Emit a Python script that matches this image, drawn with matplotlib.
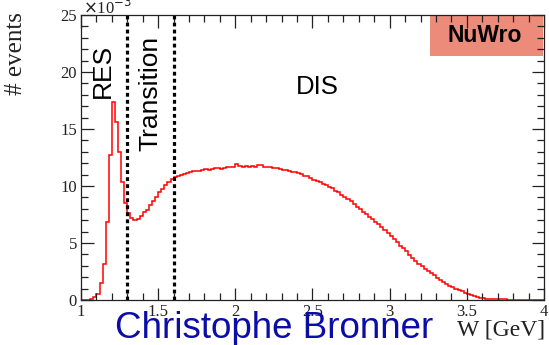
"""
NuWro hadronic invariant mass W, RES / transition / DIS regions.
Writes out.png.
"""
import numpy as np
import matplotlib
matplotlib.use("Agg")
import matplotlib.pyplot as plt
from matplotlib.patches import Rectangle
from matplotlib.ticker import MultipleLocator

# W histogram: 150 bins of 0.02 GeV from 1 to 4 GeV, counts in units of 1e-3
W_LO, W_HI, N_BINS = 1.0, 4.0, 150
events = [
    0.0, 0.0, 0.02, 0.05, 0.3, 0.55, 1.5, 3.2, 6.8, 12.7,
    17.4, 15.6, 13.0, 10.35, 8.5, 7.6, 7.2, 7.0, 7.1, 7.4,
    7.7, 7.9, 8.35, 8.65, 9.0, 9.45, 9.75, 10.05, 10.35, 10.6,
    10.8, 10.85, 10.95, 11.05, 11.1, 11.2, 11.3, 11.35, 11.3, 11.4,
    11.45, 11.4, 11.45, 11.6, 11.55, 11.45, 11.6, 11.7, 11.7, 11.65,
    11.9, 11.75, 11.7, 11.75, 11.7, 11.75, 11.7, 11.8, 11.85, 11.7,
    11.65, 11.65, 11.6, 11.55, 11.5, 11.4, 11.4, 11.3, 11.25, 11.2,
    11.1, 11.05, 10.9, 10.85, 10.7, 10.55, 10.4, 10.35, 10.2, 10.1,
    9.95, 9.8, 9.6, 9.45, 9.25, 9.05, 8.85, 8.65, 8.4, 8.2,
    7.95, 7.75, 7.55, 7.3, 7.1, 6.85, 6.65, 6.4, 6.15, 5.9,
    5.6, 5.35, 5.1, 4.75, 4.55, 4.3, 3.95, 3.7, 3.45, 3.2,
    2.95, 2.75, 2.55, 2.35, 2.15, 1.95, 1.75, 1.6, 1.4, 1.25,
    1.1, 0.95, 0.85, 0.75, 0.6, 0.5, 0.42, 0.35, 0.28, 0.2,
    0.15, 0.12, 0.1, 0.08, 0.07, 0.06, 0.05, 0.05, 0.04, 0.04,
    0.03, 0.03, 0.03, 0.02, 0.02, 0.02, 0.01, 0.01, 0.01, 0.01,
]
region_cuts = [1.3, 1.6]  # GeV: RES | transition | DIS

SERIF = "Liberation Serif"
SANS = "Liberation Sans"
INK = "#222222"

edges = np.linspace(W_LO, W_HI, N_BINS + 1)
W, H = 549, 345

fig = plt.figure(figsize=(W / 100, H / 100), dpi=100)

# generator tag box sits under the frame so the top/right ticks stay visible
fig.patches.append(Rectangle((430 / W, 1 - 56 / H), 113 / W, 41 / H,
                             transform=fig.transFigure, fc="#ec8b79", ec="none",
                             zorder=0))
fig.text(485 / W, 1 - 36 / H, "NuWro", family=SANS, fontsize=16.5,
         fontweight="bold", ha="center", va="center", zorder=1)

ax = fig.add_axes([81 / W, 45 / H, 463 / W, 285 / H])
ax.patch.set_alpha(0)
ax.set_zorder(2)

ax.stairs(events, edges, color="red", lw=1.1)
for w in region_cuts:
    ax.plot([w, w], [0, 25], color="black", lw=2.3, dashes=(1.2, 1.0),
            dash_capstyle="butt")

ax.set_xlim(W_LO, W_HI)
ax.set_ylim(0, 25)

# ROOT-style frame: ticks inside on all four sides
ax.xaxis.set_major_locator(MultipleLocator(0.5))
ax.xaxis.set_minor_locator(MultipleLocator(0.1))
ax.yaxis.set_major_locator(MultipleLocator(5))
ax.yaxis.set_minor_locator(MultipleLocator(1))
ax.xaxis.set_major_formatter(plt.FuncFormatter(lambda v, p: f"{v:g}"))
ax.tick_params(which="both", direction="in", top=True, right=True,
               colors=INK, labelsize=12, pad=3)
ax.tick_params(which="major", length=9, width=0.9)
ax.tick_params(which="minor", length=5, width=0.9)
for lab in ax.get_xticklabels() + ax.get_yticklabels():
    lab.set_family(SERIF)
for s in ax.spines.values():
    s.set_linewidth(0.9)
    s.set_color(INK)

fig.text(83 / W, 1 - 8 / H, r"$\times$10$^{-3}$", family=SERIF, fontsize=12,
         color=INK, ha="left", va="center")
fig.text(16 / W, 1 - 12 / H, "# events", family=SERIF, fontsize=18,
         rotation=90, ha="center", va="top", color=INK)
fig.text(545 / W, 1 - 330 / H, "W [GeV]", family=SERIF, fontsize=17,
         ha="right", va="center", color=INK)

ax.text(1.14, 22.5, "RES", family=SANS, fontsize=19, rotation=90,
        ha="center", va="top")
ax.text(1.45, 23.2, "Transition", family=SANS, fontsize=19, rotation=90,
        ha="center", va="top")
ax.text(2.53, 18.7, "DIS", family=SANS, fontsize=18.5, ha="center", va="center")

fig.text(115 / W, 1 - 329 / H, "Christophe Bronner", family=SANS,
         fontsize=26.5, color="#0c0ca8", ha="left", va="center")

fig.savefig("out.png", dpi=100)
